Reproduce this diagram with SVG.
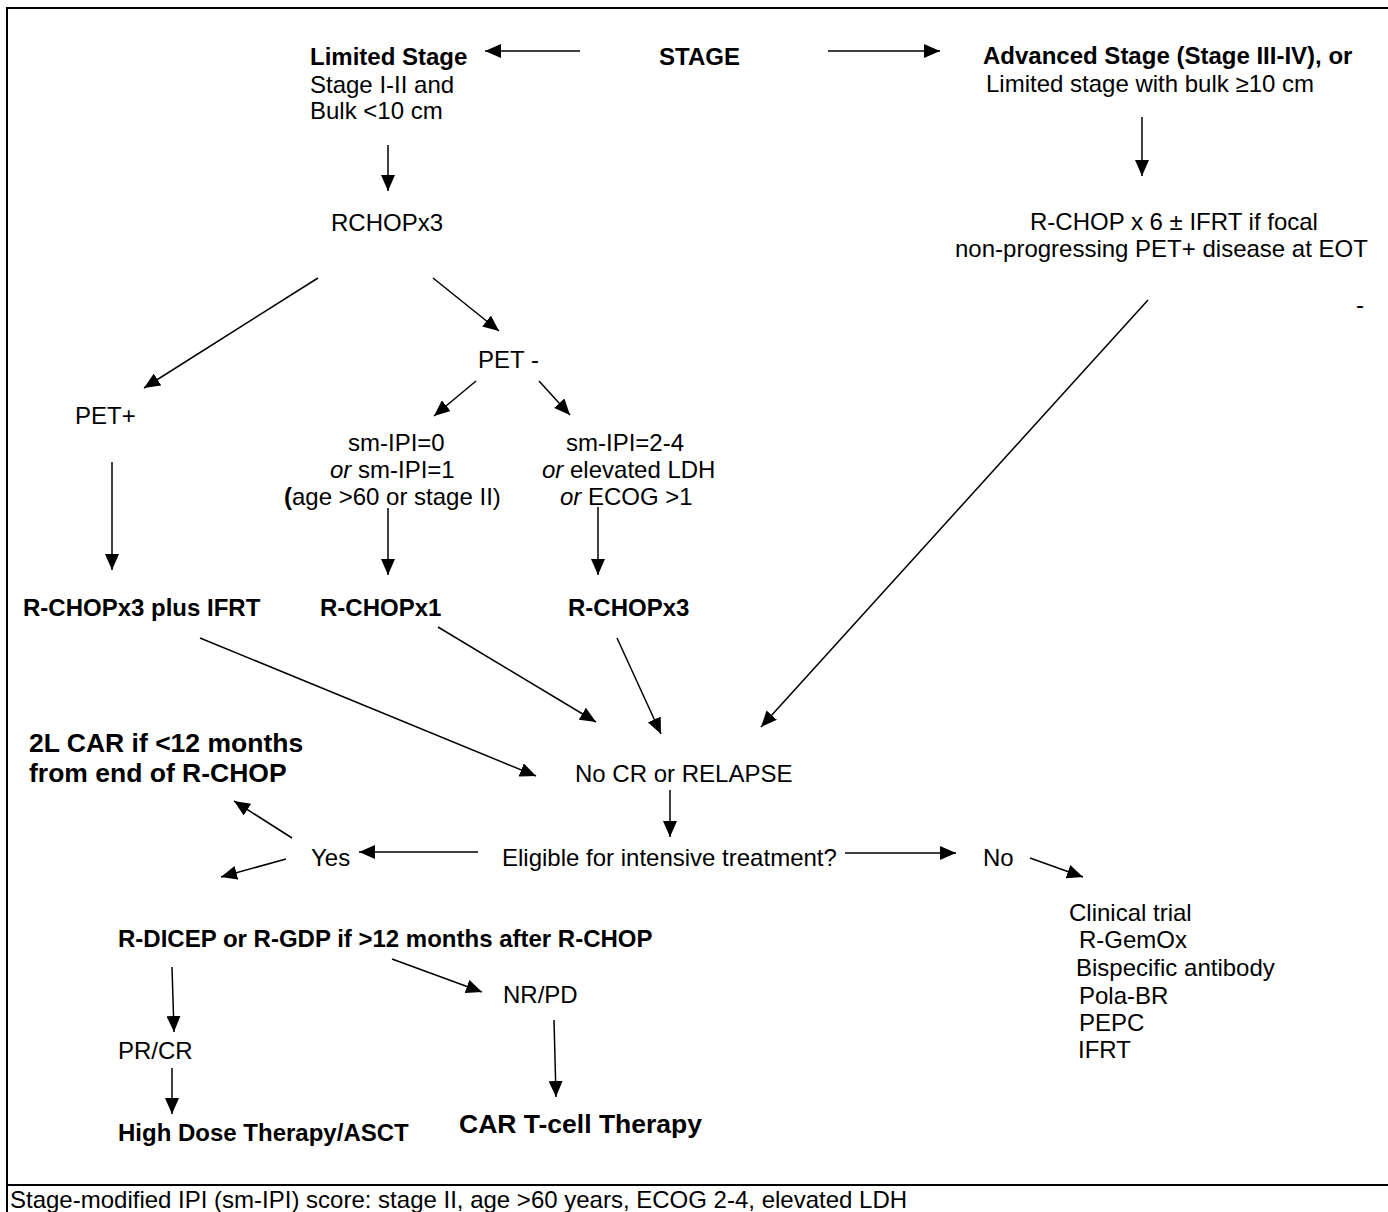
<svg xmlns="http://www.w3.org/2000/svg" width="1388" height="1212" viewBox="0 0 1388 1212">
<style>
text { font-family: "Liberation Sans", Arial, sans-serif; font-size: 24px; fill: #000; }
.b { font-weight: bold; }
.big { font-weight: bold; font-size: 26.5px; }
.i { font-style: italic; }
.frame { stroke: #000; stroke-width: 2; fill: none; }
#connectors line { stroke: #000; stroke-width: 1.5; marker-end: url(#ah); }
</style>
<defs>
<marker id="ah" markerUnits="userSpaceOnUse" markerWidth="16" markerHeight="14" refX="16" refY="7" orient="auto">
<path d="M0,0 L16,7 L0,14 z" fill="#000"/>
</marker>
</defs>
<rect width="1388" height="1212" fill="#fff"/>
<g id="frame">
<path class="frame" d="M7,1212 V8 H1390"/>
<path class="frame" d="M7,1185 H1390"/>
</g>
<g id="connectors">
<line x1="580" y1="51" x2="485" y2="51"/>
<line x1="828" y1="51" x2="940" y2="51"/>
<line x1="388" y1="145" x2="388" y2="191"/>
<line x1="1142" y1="117" x2="1142" y2="176"/>
<line x1="318" y1="278" x2="144" y2="388"/>
<line x1="433" y1="278" x2="499" y2="331"/>
<line x1="476" y1="381" x2="434" y2="416"/>
<line x1="539" y1="381" x2="570" y2="415"/>
<line x1="112" y1="462" x2="112" y2="570"/>
<line x1="388" y1="508" x2="388" y2="575"/>
<line x1="598" y1="507" x2="598" y2="575"/>
<line x1="200" y1="638" x2="536" y2="776"/>
<line x1="438" y1="627" x2="596" y2="722"/>
<line x1="617" y1="638" x2="661" y2="734"/>
<line x1="1148" y1="300" x2="761" y2="727"/>
<line x1="670" y1="790" x2="670" y2="837"/>
<line x1="478" y1="852" x2="359" y2="852"/>
<line x1="845" y1="853" x2="956" y2="853"/>
<line x1="292" y1="838" x2="234" y2="801"/>
<line x1="286" y1="859" x2="221" y2="877"/>
<line x1="1030" y1="858" x2="1083" y2="877"/>
<line x1="172" y1="967" x2="174" y2="1032"/>
<line x1="172" y1="1068" x2="172" y2="1114"/>
<line x1="392" y1="959" x2="482" y2="992"/>
<line x1="554" y1="1020" x2="556" y2="1097"/>
</g>
<g id="stage"><text class="b" x="659" y="65">STAGE</text></g>
<g id="limited">
<text class="b" x="310" y="65">Limited Stage</text>
<text x="310" y="93">Stage I-II and</text>
<text x="310" y="119">Bulk &lt;10 cm</text>
</g>
<g id="advanced">
<text class="b" x="983" y="64">Advanced Stage (Stage III-IV), or</text>
<text x="986" y="92">Limited stage with bulk ≥10 cm</text>
</g>
<g id="rchop6">
<text x="1030" y="230">R-CHOP x 6 ± IFRT if focal</text>
<text x="955" y="257">non-progressing PET+ disease at EOT</text>
</g>
<g id="dash"><text x="1356" y="313">-</text></g>
<g id="rchopx3a"><text x="331" y="231">RCHOPx3</text></g>
<g id="petneg"><text x="478" y="368">PET -</text></g>
<g id="petpos"><text x="75" y="424">PET+</text></g>
<g id="smipi01">
<text x="348" y="451">sm-IPI=0</text>
<text x="330" y="478"><tspan class="i">or</tspan> sm-IPI=1</text>
<text x="284" y="505"><tspan class="b">(</tspan>age &gt;60 or stage II)</text>
</g>
<g id="smipi24">
<text x="566" y="451">sm-IPI=2-4</text>
<text x="542" y="478"><tspan class="i">or</tspan> elevated LDH</text>
<text x="560" y="505"><tspan class="i">or</tspan> ECOG &gt;1</text>
</g>
<g id="rchop3ifrt"><text class="b" x="23" y="616">R-CHOPx3 plus IFRT</text></g>
<g id="rchop1"><text class="b" x="320" y="616">R-CHOPx1</text></g>
<g id="rchop3b"><text class="b" x="568" y="616">R-CHOPx3</text></g>
<g id="car2l">
<text class="big" x="29" y="752">2L CAR if &lt;12 months</text>
<text class="big" x="29" y="782">from end of R-CHOP</text>
</g>
<g id="nocr"><text x="575" y="782">No CR or RELAPSE</text></g>
<g id="yes"><text x="311" y="866">Yes</text></g>
<g id="eligible"><text x="502" y="866">Eligible for intensive treatment?</text></g>
<g id="no"><text x="983" y="866">No</text></g>
<g id="clinical">
<text x="1069" y="921">Clinical trial</text>
<text x="1079" y="948">R-GemOx</text>
<text x="1076" y="976">Bispecific antibody</text>
<text x="1079" y="1004">Pola-BR</text>
<text x="1079" y="1031">PEPC</text>
<text x="1078" y="1058">IFRT</text>
</g>
<g id="rdicep"><text class="b" x="118" y="947">R-DICEP or R-GDP if &gt;12 months after R-CHOP</text></g>
<g id="nrpd"><text x="503" y="1003">NR/PD</text></g>
<g id="prcr"><text x="118" y="1059">PR/CR</text></g>
<g id="hdt"><text class="b" x="118" y="1141">High Dose Therapy/ASCT</text></g>
<g id="cart"><text class="big" x="459" y="1133">CAR T-cell Therapy</text></g>
<g id="footer"><text x="10" y="1208">Stage-modified IPI (sm-IPI) score: stage II, age &gt;60 years, ECOG 2-4, elevated LDH</text></g>
</svg>
